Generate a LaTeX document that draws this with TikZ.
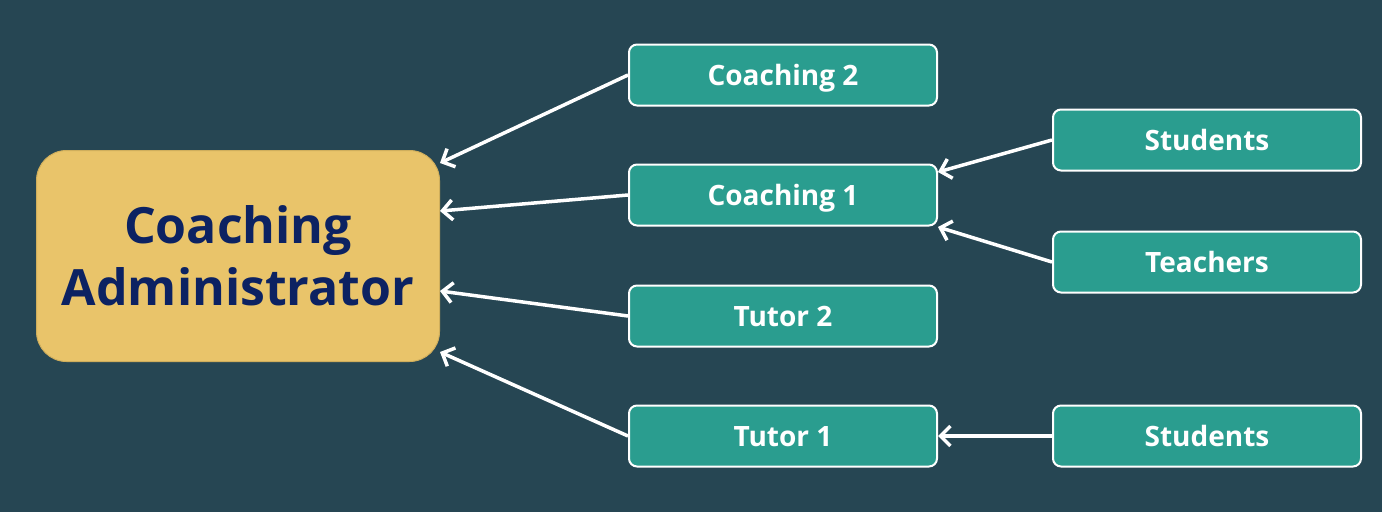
\documentclass[tikz,border=0pt]{standalone}
\usepackage{fontspec}
\setmainfont{Open Sans}
\usetikzlibrary{arrows.meta}
\definecolor{bgc}{HTML}{264653}
\definecolor{teal}{HTML}{2A9D8F}
\definecolor{sand}{HTML}{E9C46A}
\definecolor{sandedge}{HTML}{CFAE5C}
\definecolor{navy}{HTML}{0C2262}
\tikzset{
  smallbox/.style={draw=white, line width=2pt, fill=teal, rounded corners=8pt,
    minimum width=308pt, minimum height=61pt, inner sep=0pt,
    text height=20pt, text depth=0pt,
    text=white, font=\fontsize{28}{32}\selectfont\bfseries},
  bigbox/.style={draw=sandedge, line width=1pt, fill=sand, rounded corners=30pt,
    minimum width=403pt, minimum height=211pt, inner sep=0pt, align=center,
    text=navy, font=\fontsize{50}{62}\selectfont\bfseries},
  conn/.style={draw=white, line width=3.5pt, -{Straight Barb[length=10pt,width=20pt,line width=3.5pt]}}
}
\begin{document}
\begin{tikzpicture}[x=1pt,y=-1pt]
\fill[bgc] (0,0) rectangle (1382,512);
\useasboundingbox (0,0) rectangle (1382,512);
\node[bigbox] (admin) at (238,256) {Coaching\\Administrator};
\node[smallbox] (c2) at (783,75) {Coaching 2};
\node[smallbox] (c1) at (783,195) {Coaching 1};
\node[smallbox] (t2) at (783,316) {Tutor 2};
\node[smallbox] (t1) at (783,436) {Tutor 1};
\node[smallbox] (s1) at (1207,140) {Students};
\node[smallbox] (te) at (1207,262) {Teachers};
\node[smallbox] (s2) at (1207,436) {Students};
\draw[conn] (c2.west) -- ([yshift=93pt]admin.east);
\draw[conn] (c1.west) -- ([yshift=45pt]admin.east);
\draw[conn] (t2.west) -- ([yshift=-35pt]admin.east);
\draw[conn] (t1.west) -- ([yshift=-96pt]admin.east);
\draw[conn] (s1.west) -- ([yshift=23pt]c1.east);
\draw[conn] (te.west) -- ([yshift=-32pt]c1.east);
\draw[conn] (s2.west) -- (t1.east);
\end{tikzpicture}
\end{document}
